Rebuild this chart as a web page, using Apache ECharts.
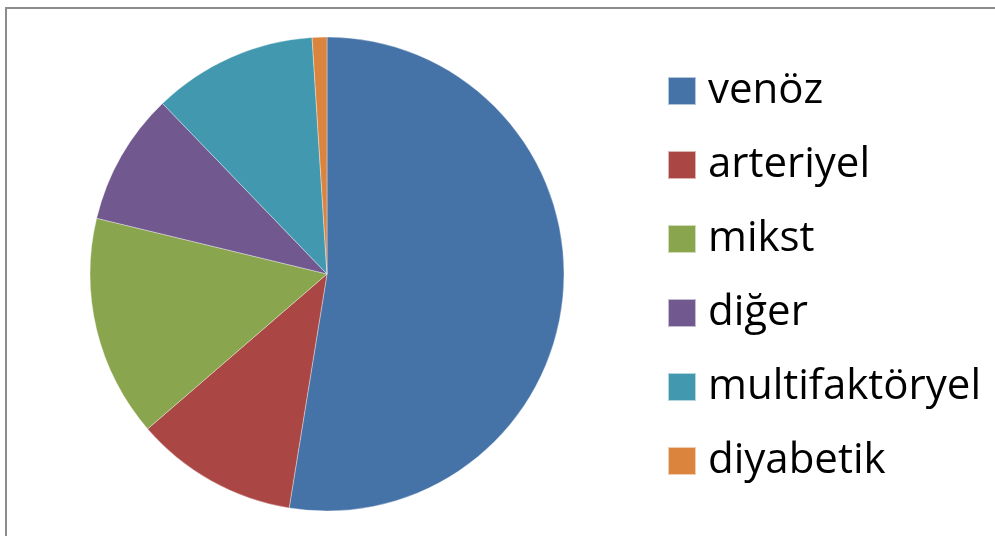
<!DOCTYPE html>
<html>
<head>
<meta charset="utf-8">
<script src="https://cdn.jsdelivr.net/npm/echarts@6/dist/echarts.min.js"></script>
<style>
html,body{margin:0;padding:0;background:#fff;}
#chart{width:995px;height:536px;}
</style>
</head>
<body>
<div id="chart"></div>
<script>
const categories = ['venöz', 'arteriyel', 'mikst', 'diğer', 'multifaktöryel', 'diyabetik'];
const values = [52.5, 11.1, 15.1, 9.0, 11.2, 1.0];
const colors = ['#4572A7', '#AA4643', '#89A54E', '#71588F', '#4198AF', '#DB843D'];

const chart = echarts.init(document.getElementById('chart'), null, {renderer: 'canvas'});
chart.setOption({
  animation: false,
  backgroundColor: '#ffffff',
  color: colors,
  graphic: [{
    type: 'rect',
    silent: true,
    shape: {x: 6, y: 8, width: 1100, height: 700},
    style: {fill: 'none', stroke: '#8c8c8c', lineWidth: 2}
  }],
  legend: {
    orient: 'vertical',
    left: 667,
    top: 70,
    height: 466,
    padding: 0,
    icon: 'rect',
    itemWidth: 28,
    itemHeight: 28,
    itemGap: 32,
    selectedMode: false,
    textStyle: {fontFamily: 'Open Sans', fontSize: 42, color: '#000', padding: [0, 0, 0, 7]},
    data: categories
  },
  series: [{
    type: 'pie',
    center: [327, 274],
    radius: 237,
    startAngle: 90,
    clockwise: true,
    label: {show: false},
    labelLine: {show: false},
    emphasis: {disabled: true},
    itemStyle: {borderColor: 'rgba(255,255,255,0.6)', borderWidth: 0.6},
    data: categories.map((c, i) => ({name: c, value: values[i]}))
  }]
});
</script>
</body>
</html>
